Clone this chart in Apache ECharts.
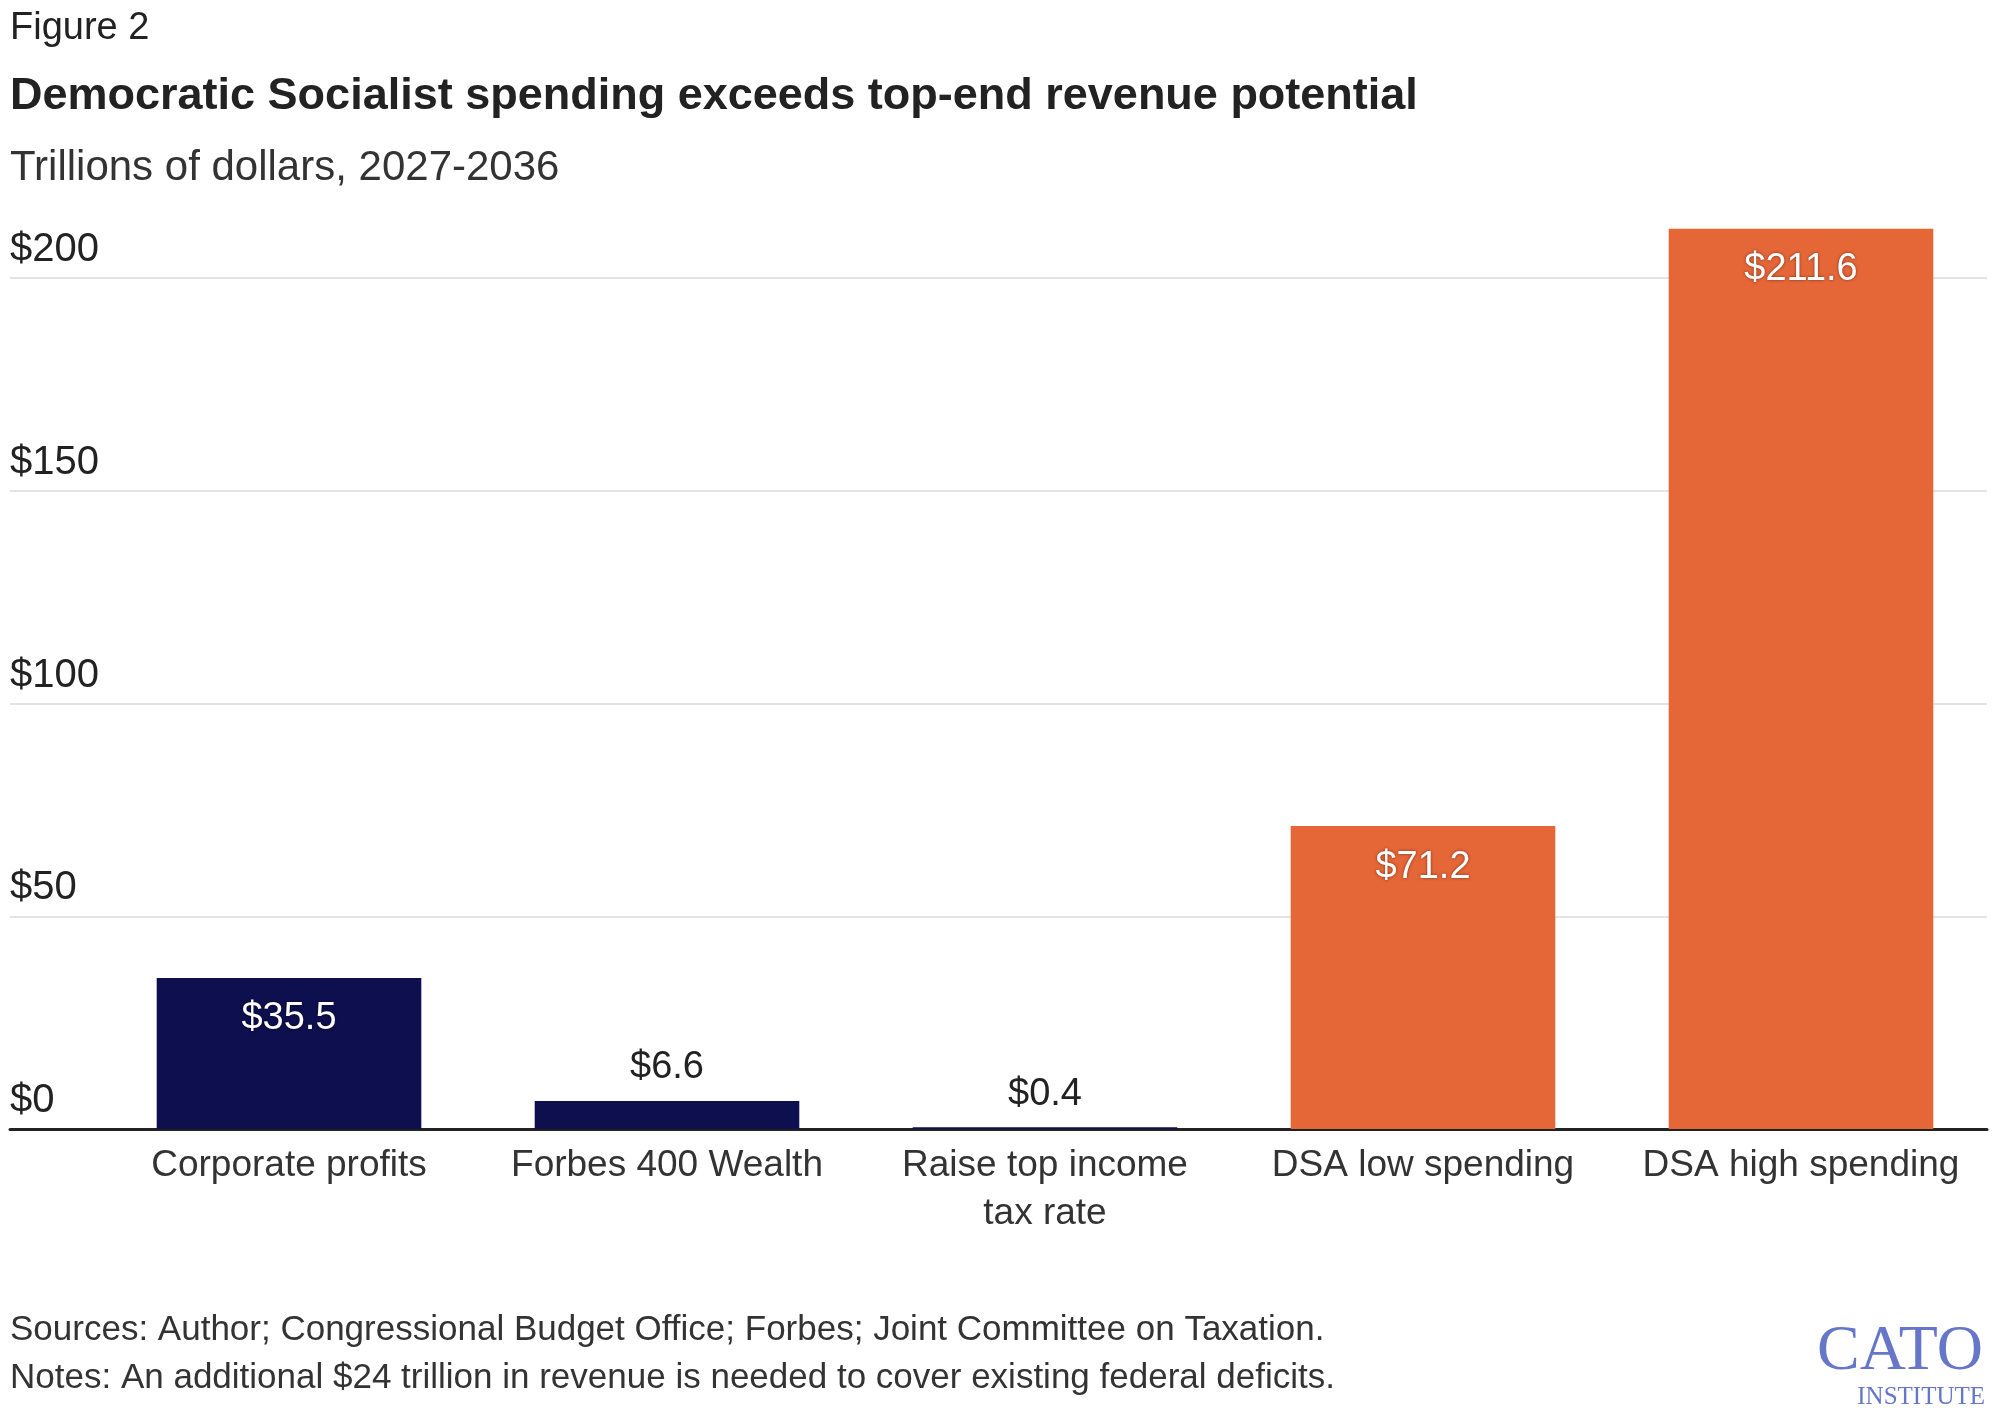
<!DOCTYPE html>
<html><head><meta charset="utf-8">
<script src="https://cdn.jsdelivr.net/npm/echarts@6/dist/echarts.min.js"></script>
<style>html,body{margin:0;padding:0;background:#fff}#container{width:1997px;height:1418px}</style>
</head><body><div id="container"></div>
<script>
var categories = ['Corporate profits', 'Forbes 400 Wealth', 'Raise top income\ntax rate', 'DSA low spending', 'DSA high spending'];
var values = [35.5, 6.6, 0.4, 71.2, 211.6];
var colors = ['#0e0f4f', '#0e0f4f', '#0e0f4f', '#e56637', '#e56637'];
var insideBar = [true, false, false, true, true];
var yTicks = [0, 50, 100, 150, 200];

var font = 'Liberation Sans';
var myChart = echarts.init(document.getElementById('container'));

var barData = values.map(function (v, i) {
    return {
        value: v,
        itemStyle: {color: colors[i]},
        label: insideBar[i]
            ? {position: 'insideTop', distance: 22, color: '#fff', textShadowColor: 'rgba(0,0,0,0.5)', textShadowBlur: 3}
            : {position: 'top', distance: 14, color: '#222'}
    };
});

var option = {
    animation: false,
    textStyle: {fontFamily: font},
    grid: [
        {left: 10, right: 10, top: 278, bottom: 289},
        {left: 100, right: 7, top: 278, bottom: 289}
    ],
    xAxis: [
        {gridIndex: 0, type: 'value', min: 0, max: 1, axisLabel: {show: false}, axisTick: {show: false}, splitLine: {show: false},
         axisLine: {show: true, onZero: false, lineStyle: {color: '#222', width: 3}}},
        {gridIndex: 1, type: 'category', data: categories, axisLine: {show: false}, axisTick: {show: false},
         axisLabel: {interval: 0, fontSize: 37, color: '#333', margin: 13, lineHeight: 48, fontFamily: font}}
    ],
    yAxis: [
        {gridIndex: 0, type: 'value', min: yTicks[0], max: yTicks[yTicks.length - 1], interval: 50,
         axisLine: {show: false}, axisTick: {show: false},
         splitLine: {lineStyle: {color: '#e3e3e3', width: 2}},
         axisLabel: {inside: true, verticalAlign: 'bottom', margin: 0, padding: [0, 0, 8, 0], fontSize: 40, color: '#222',
                     fontFamily: font, formatter: function (v) { return '$' + v; }}},
        {gridIndex: 1, type: 'value', min: 0, max: 200, show: false}
    ],
    series: [{
        type: 'bar',
        xAxisIndex: 1,
        yAxisIndex: 1,
        barWidth: '70%',
        clip: false,
        data: barData,
        label: {show: true, fontSize: 38, fontFamily: font, formatter: function (p) { return '$' + p.value; }}
    }],
    graphic: [
        {type: 'text', left: 10, top: 10, style: {text: 'Figure 2', fontSize: 38, fill: '#222', fontFamily: font}},
        {type: 'text', left: 10, top: 74, style: {text: 'Democratic Socialist spending exceeds top-end revenue potential', fontSize: 45, fontWeight: 'bold', fill: '#222', fontFamily: font}},
        {type: 'text', left: 10, top: 147, style: {text: 'Trillions of dollars, 2027-2036', fontSize: 42, fill: '#333', fontFamily: font}},
        {type: 'text', left: 10, top: 1313, style: {text: 'Sources: Author; Congressional Budget Office; Forbes; Joint Committee on Taxation.', fontSize: 35, fill: '#333', fontFamily: font}},
        {type: 'text', left: 10, top: 1361, style: {text: 'Notes: An additional $24 trillion in revenue is needed to cover existing federal deficits.', fontSize: 35, fill: '#333', fontFamily: font}},
        {type: 'text', right: 14, top: 1320, style: {text: 'CATO', fontSize: 64, fill: '#6677c9', fontFamily: 'Liberation Serif', letterSpacing: -6}},
        {type: 'text', right: 12, top: 1385, style: {text: 'INSTITUTE', fontSize: 25, fill: '#6677c9', fontFamily: 'Liberation Serif'}}
    ]
};
myChart.setOption(option);
</script></body></html>
